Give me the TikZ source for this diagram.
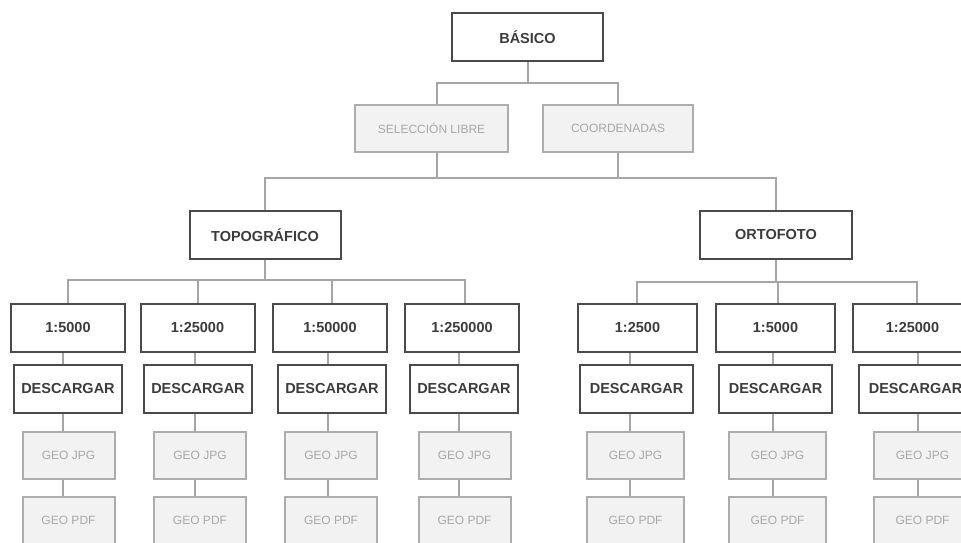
\documentclass[tikz,border=0pt]{standalone}
\usepackage{fontspec}
\setmainfont{Liberation Sans}

\definecolor{boxdark}{HTML}{4A4A4A}
\definecolor{txtdark}{HTML}{3C3C3C}
\definecolor{boxlight}{HTML}{ADADAD}
\definecolor{filllight}{HTML}{F2F2F2}
\definecolor{txtlight}{HTML}{A8A8A8}
\definecolor{linkgray}{HTML}{A6A6A6}

\tikzset{
  darkbox/.style={draw=boxdark,line width=2pt,fill=white,text=txtdark,
    font=\fontsize{14.5}{16}\selectfont\bfseries,minimum height=48pt,inner sep=0pt},
  lightbox/.style={draw=boxlight,line width=2pt,fill=filllight,text=txtlight,
    font=\fontsize{12}{14}\selectfont,minimum height=47pt,inner sep=0pt},
  link/.style={draw=linkgray,line width=2pt}
}

\begin{document}
\begin{tikzpicture}[x=1pt,y=-1pt]
  \clip (0,0) rectangle (961,543);

  % upper levels
  \node[darkbox,minimum width=151pt] (basico) at (527.5,37) {BÁSICO};
  \node[lightbox,minimum width=153pt] (libre) at (431.5,128.5) {SELECCIÓN LIBRE};
  \node[lightbox,minimum width=150pt] (coord) at (618,128.5) {COORDENADAS};
  \node[darkbox,minimum width=151pt] (topo) at (265,235) {TOPOGRÁFICO};
  \node[darkbox,minimum width=152pt] (orto) at (776,235) {ORTOFOTO};

  \draw[link] (basico.south) -- ++(0,21) -| ([xshift=5.5pt]libre.north);
  \draw[link] (basico.south) -- ++(0,21) -| (coord.north);
  \draw[link] ([xshift=5.5pt]libre.south) -- ++(0,25) coordinate (jl) -| (topo.north);
  \draw[link] (coord.south) -- ++(0,25) coordinate (jr) -| (orto.north);
  \draw[link] (jl) -- (jr);

  % topografico scales
  \foreach \i/\x/\d/\g/\t/\c/\lab in {
    1/68/68/68.5/68/63/1:5000,2/197.5/198/200/198/195/1:25000,
    3/330/332/331/332/328/1:50000,4/462/464/464.5/465/459/1:250000}{
    \node[darkbox,minimum width=114pt] (s\i) at (\x,328) {\lab};
    \node[darkbox,minimum width=108pt] (d\i) at (\d,388.5) {DESCARGAR};
    \node[lightbox,minimum width=92pt] (g\i) at (\g,455.5) {GEO JPG};
    \node[lightbox,minimum width=92pt] (p\i) at (\g,520.5) {GEO PDF};
    \coordinate (t\i) at (\t,0);
    \coordinate (c\i) at (\c,0);
    \draw[link] (topo.south) -- ++(0,20) -| (t\i |- s\i.north);
    \draw[link] (c\i |- s\i.south) -- (c\i |- d\i.north);
    \draw[link] (c\i |- d\i.south) -- (c\i |- g\i.north);
    \draw[link] (c\i |- g\i.south) -- (c\i |- p\i.north);
  }

  % ortofoto scales
  \foreach \i/\x/\d/\g/\t/\c/\lab in {
    5/637.5/636.5/635.5/637/630/1:2500,6/775.5/775.5/777.5/778/773/1:5000,
    7/912.5/915.5/922.5/917/918/1:25000}{
    \node[darkbox,minimum width=119pt] (s\i) at (\x,328) {\lab};
    \node[darkbox,minimum width=113pt] (d\i) at (\d,388.5) {DESCARGAR};
    \node[lightbox,minimum width=97pt] (g\i) at (\g,455.5) {GEO JPG};
    \node[lightbox,minimum width=97pt] (p\i) at (\g,520.5) {GEO PDF};
    \coordinate (t\i) at (\t,0);
    \coordinate (c\i) at (\c,0);
    \draw[link] (orto.south) -- ++(0,22) -| (t\i |- s\i.north);
    \draw[link] (c\i |- s\i.south) -- (c\i |- d\i.north);
    \draw[link] (c\i |- d\i.south) -- (c\i |- g\i.north);
    \draw[link] (c\i |- g\i.south) -- (c\i |- p\i.north);
  }
\end{tikzpicture}
\end{document}
